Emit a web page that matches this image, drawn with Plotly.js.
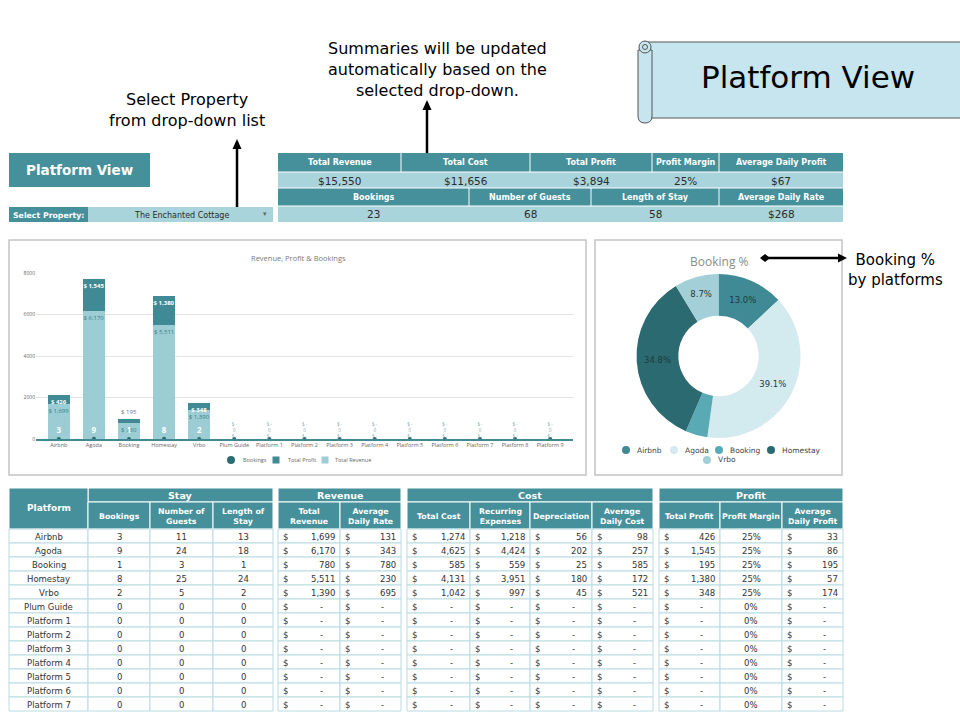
<!DOCTYPE html>
<html><head><meta charset="utf-8">
<script src="https://cdn.plot.ly/plotly-3.0.1.min.js"></script>
<style>html,body{margin:0;padding:0;background:#fff}#chart{width:960px;height:720px}</style>
</head><body><div id="chart"></div>
<script>
// ---------------- DATA ----------------
const platforms = ['Airbnb','Agoda','Booking','Homestay','Vrbo','Plum Guide','Platform 1','Platform 2','Platform 3','Platform 4','Platform 5','Platform 6','Platform 7','Platform 8','Platform 9'];
const bookings        = [3, 9, 1, 8, 2, 0,0,0,0,0,0,0,0,0,0];
const guests          = [11,24,3,25,5, 0,0,0,0,0,0,0,0,0,0];
const lengthOfStay    = [13,18,1,24,2, 0,0,0,0,0,0,0,0,0,0];
const totalRevenue    = [1699,6170,780,5511,1390, 0,0,0,0,0,0,0,0,0,0];
const avgDailyRate    = [131,343,780,230,695, 0,0,0,0,0,0,0,0,0,0];
const totalCost       = [1274,4625,585,4131,1042, 0,0,0,0,0,0,0,0,0,0];
const recurringExp    = [1218,4424,559,3951,997, 0,0,0,0,0,0,0,0,0,0];
const depreciation    = [56,202,25,180,45, 0,0,0,0,0,0,0,0,0,0];
const avgDailyCost    = [98,257,585,172,521, 0,0,0,0,0,0,0,0,0,0];
const totalProfit     = [426,1545,195,1380,348, 0,0,0,0,0,0,0,0,0,0];
const profitMargin    = [25,25,25,25,25, 0,0,0,0,0,0,0,0,0,0];
const avgDailyProfit  = [33,86,195,57,174, 0,0,0,0,0,0,0,0,0,0];

const summaryHeaders1 = ['Total Revenue','Total Cost','Total Profit','Profit Margin','Average Daily Profit'];
const summaryValues1  = ['$15,550','$11,656','$3,894','25%','$67'];
const summaryHeaders2 = ['Bookings','Number of Guests','Length of Stay','Average Daily Rate'];
const summaryValues2  = ['23','68','58','$268'];
const selectedProperty = 'The Enchanted Cottage';
const yTicks = [0,2000,4000,6000,8000];

// ---------------- STYLE ----------------
const F  = 'DejaVu Sans, Noto Sans, sans-serif';
const FC = 'Open Sans, Lato, sans-serif';
const teal = '#45909a', light = '#a9d4db', grid = '#b8dce2', ink = '#333333';
const cRevenue = '#9ccdd5', cProfit = '#3f8a94', cBook = '#2c6c73';
const pieColors = ['#3f8a94','#d3eaef','#5aaab5','#2b6a70','#a3d0d8'];

const W = 960, H = 720;
const px = x => x / W, py = y => 1 - y / H;
const shapes = [], ann = [];
function rect(x0,y0,x1,y1,fill,line,lw,layer){
  shapes.push({type:'rect',xref:'paper',yref:'paper',x0:px(x0),x1:px(x1),y0:py(y1),y1:py(y0),
    fillcolor:fill||'rgba(0,0,0,0)',line:{color:line||'rgba(0,0,0,0)',width:lw||0},layer:layer||'above'});
}
function circ(cx,cy,r,fill,line,lw){
  shapes.push({type:'circle',xref:'paper',yref:'paper',x0:px(cx-r),x1:px(cx+r),y0:py(cy+r),y1:py(cy-r),
    fillcolor:fill,line:{color:line||'rgba(0,0,0,0)',width:lw||0}});
}
function seg(x0,y0,x1,y1,color,w){
  shapes.push({type:'line',xref:'paper',yref:'paper',x0:px(x0),y0:py(y0),x1:px(x1),y1:py(y1),line:{color:color,width:w}});
}
function poly(pts,fill,line,lw){
  let d = pts.map((p,i)=>(i?'L':'M')+px(p[0])+','+py(p[1])).join(' ')+' Z';
  shapes.push({type:'path',xref:'paper',yref:'paper',path:d,fillcolor:fill,line:{color:line||fill,width:lw||0}});
}
function txt(x,y,t,o){
  o = o||{};
  ann.push({xref:'paper',yref:'paper',x:px(x),y:py(y),text:t,showarrow:false,
    xanchor:o.xa||'center',yanchor:o.ya||'middle',align:o.align||'center',
    font:{family:o.family||F,size:o.size||9,color:o.color||ink,weight:o.weight||'normal'}});
}
const fmt = v => v.toLocaleString('en-US');

// ---------------- TOP NOTES & ARROWS ----------------
txt(187,110,'Select Property<br>from drop-down list',{size:16,color:'#000'});
txt(437,69,'Summaries will be updated<br>automatically based on the<br>selected drop-down.',{size:16,color:'#000'});
txt(895,270,'Booking %<br>by platforms',{size:15,color:'#000'});
// vertical arrow 1
seg(237,147,237,214,'#000',2.5);
poly([[237,139],[232.5,149],[241.5,149]],'#000');
poly([[237,211],[241,216],[237,221],[233,216]],'#000');
// vertical arrow 2
seg(427,108,427,176,'#000',2.5);
poly([[427,100],[422.5,110],[431.5,110]],'#000');
poly([[427,174],[431,179],[427,184],[423,179]],'#000');
// horizontal arrow
seg(766,258,840,258,'#000',2.5);
poly([[847,258],[838,253.5],[838,262.5]],'#000');
poly([[760,258],[765,254],[770,258],[765,262]],'#000');

// scroll banner
rect(646,42,962,118,'#c6e5ee','#555',1);
shapes.push({type:'path',xref:'paper',yref:'paper',layer:'above',
  path:'M'+px(638)+','+py(50)+' L'+px(638)+','+py(116)+' Q'+px(638)+','+py(123)+' '+px(645)+','+py(123)+' Q'+px(652)+','+py(123)+' '+px(652)+','+py(116)+' L'+px(652)+','+py(50)+' Z',
  fillcolor:'#c6e5ee',line:{color:'#555',width:1}});
circ(645,47,6,'#c6e5ee','#555',1);
circ(645,47,2.5,'#c6e5ee','#555',1);
txt(808,77,'Platform View',{size:31,color:'#000'});

// ---------------- LEFT HEADER ----------------
rect(9,153,150,187,teal);
txt(79.5,170,'Platform View',{size:13.5,color:'#fff',weight:'bold'});
rect(9,207,88,222,teal);
rect(88,207,273,222,light);
txt(11,215,'Select Property:',{xa:'left',size:7.8,color:'#fff',weight:'bold'});
txt(181,215,selectedProperty,{size:8,color:'#2b2b2b'});
txt(265,214,'▾',{size:7,color:'#666'});

// ---------------- SUMMARY TABLE ----------------
const sb1 = [278,401,530,652,719,843];
const sb2 = [278,469,591,719,843];
rect(278,153,843,172,teal);
rect(278,172,843,188,light);
rect(278,188,843,206,teal);
rect(278,206,843,222,light);
summaryHeaders1.forEach((h,i)=>{
  if(i>0) seg(sb1[i],153,sb1[i],172,'#fff',1);
  txt((sb1[i]+sb1[i+1])/2,162.5,h,{size:8,color:'#fff',weight:'bold'});
  txt((sb1[i]+sb1[i+1])/2,180.5,summaryValues1[i],{size:10.5,color:'#2b2b2b'});
});
summaryHeaders2.forEach((h,i)=>{
  if(i>0) seg(sb2[i],188,sb2[i],206,'#fff',1);
  txt((sb2[i]+sb2[i+1])/2,197,h,{size:8,color:'#fff',weight:'bold'});
  txt((sb2[i]+sb2[i+1])/2,214.5,summaryValues2[i],{size:10.5,color:'#2b2b2b'});
});
seg(278,172,843,172,'#fff',1);
seg(278,188,843,188,'#fff',1);
seg(278,206,843,206,'#fff',1);

// ---------------- PANELS ----------------
rect(9,240,586,475,'rgba(0,0,0,0)','#c4c4c4',1.5,'below');
rect(595,240,842,475,'rgba(0,0,0,0)','#c4c4c4',1.5,'below');
txt(298,258,'Revenue, Profit &amp; Bookings',{family:FC,size:7.5,color:'#7a7a7a'});
txt(719,261,'Booking %',{family:FC,size:12,color:'#8c8c8c'});

// ---------------- BOTTOM TABLE ----------------
const nRows = 13;
const blocks = [
  {group:'Stay', gx0:88, gx1:273, cols:[
    {x0:9,x1:88,head:'Platform',span:true,data:platforms,kind:'text'},
    {x0:88,x1:150,head:'Bookings',data:bookings,kind:'int'},
    {x0:150,x1:213,head:'Number of<br>Guests',data:guests,kind:'int'},
    {x0:213,x1:273,head:'Length of<br>Stay',data:lengthOfStay,kind:'int'}]},
  {group:'Revenue', gx0:278, gx1:401, cols:[
    {x0:278,x1:340,head:'Total<br>Revenue',data:totalRevenue,kind:'acct'},
    {x0:340,x1:401,head:'Average<br>Daily Rate',data:avgDailyRate,kind:'acct'}]},
  {group:'Cost', gx0:407, gx1:653, cols:[
    {x0:407,x1:470,head:'Total Cost',data:totalCost,kind:'acct'},
    {x0:470,x1:530,head:'Recurring<br>Expenses',data:recurringExp,kind:'acct'},
    {x0:530,x1:592,head:'Depreciation',data:depreciation,kind:'acct'},
    {x0:592,x1:653,head:'Average<br>Daily Cost',data:avgDailyCost,kind:'acct'}]},
  {group:'Profit', gx0:659, gx1:843, cols:[
    {x0:659,x1:720,head:'Total Profit',data:totalProfit,kind:'acct'},
    {x0:720,x1:782,head:'Profit Margin',data:profitMargin,kind:'pct'},
    {x0:782,x1:843,head:'Average<br>Daily Profit',data:avgDailyProfit,kind:'acct'}]}
];
const hTop = 488, hMid = 502, hBot = 529, rowH = 14;
blocks.forEach(b=>{
  rect(b.gx0,hTop,b.gx1,hMid,teal,'#fff',1);
  txt((b.gx0+b.gx1)/2,hTop+7.5,b.group,{size:9.5,color:'#fff',weight:'bold'});
  b.cols.forEach(c=>{
    if(c.span){
      rect(c.x0,hTop,c.x1,hBot,teal,'#fff',1);
      txt((c.x0+c.x1)/2,508,c.head,{size:9,color:'#fff',weight:'bold'});
    } else {
      rect(c.x0,hMid,c.x1,hBot,teal,'#fff',1);
      txt((c.x0+c.x1)/2,(hMid+hBot)/2+0.5,c.head,{size:7.8,color:'#fff',weight:'bold'});
    }
    for(let i=0;i<nRows;i++){
      const y0 = hBot + i*rowH, yc = y0 + rowH/2 + 0.5, v = c.data[i];
      rect(c.x0,y0,c.x1,y0+rowH,'#fff',grid,1);
      if(c.kind==='text') txt((c.x0+c.x1)/2,yc,v,{size:8.5});
      else if(c.kind==='int') txt((c.x0+c.x1)/2,yc,String(v),{size:8.5});
      else if(c.kind==='pct') txt((c.x0+c.x1)/2,yc,v+'%',{size:8.5});
      else {
        txt(c.x0+3,yc,'$',{xa:'left',size:8.5});
        if(v) txt(c.x1-3,yc,fmt(v),{xa:'right',size:8.5});
        else txt(c.x1-15,yc,'-',{xa:'right',size:8.5});
      }
    }
  });
});

// ---------------- BAR CHART ----------------
const revText = totalRevenue.map(v=> v ? '$ '+fmt(v) : '');
const profText = totalProfit.map(v=> v ? '$ '+fmt(v) : '');
const profPos = totalProfit.map(v=> v >= 300 ? 'inside' : 'outside');
const zeroIdx = platforms.map((p,i)=>i).filter(i=>totalRevenue[i]===0);

const traces = [
  {type:'bar', name:'Total Revenue', x:platforms, y:totalRevenue, marker:{color:cRevenue},
   width:0.63, text:revText, textposition:'inside', insidetextanchor:'end', constraintext:'none', textangle:0,
   textfont:{family:FC,size:6,color:'#3b7d86'}, hoverinfo:'skip', showlegend:false, cliponaxis:false},
  {type:'bar', name:'Total Profit', x:platforms, y:totalProfit, marker:{color:cProfit},
   width:0.63, text:profText, textposition:profPos, insidetextanchor:'end', constraintext:'none', textangle:0,
   insidetextfont:{family:FC,size:6,color:'#ffffff',weight:'bold'},
   outsidetextfont:{family:FC,size:6,color:'#777'}, hoverinfo:'skip', showlegend:false, cliponaxis:false},
  {type:'scatter', mode:'markers+text', name:'Bookings', x:platforms, y:bookings,
   marker:{color:cBook,size:4}, text:bookings.map(v=> v ? String(v) : ''), textposition:'top center',
   textfont:{family:FC,size:8,color:'#ffffff',weight:'bold'}, hoverinfo:'skip', showlegend:false, cliponaxis:false},
  {type:'scatter', mode:'text', x:zeroIdx.map(i=>platforms[i]), y:zeroIdx.map(()=>0),
   text:zeroIdx.map(i=>'$ -<br>'+bookings[i]+'<br>$ -'), textposition:'top center',
   textfont:{family:FC,size:4.5,color:'#7fa9ae'}, hoverinfo:'skip', showlegend:false, cliponaxis:false},
  {type:'pie', values:bookings.slice(0,5), labels:platforms.slice(0,5), sort:false, direction:'clockwise',
   rotation:0, hole:0.49, marker:{colors:pieColors, line:{width:0}},
   text:bookings.slice(0,5).map(v=>{const s=bookings.reduce((a,b)=>a+b,0);const p=v/s*100;return p>=5?p.toFixed(1)+'%':'';}),
   textinfo:'text', textposition:'inside', insidetextorientation:'horizontal',
   textfont:{family:F,size:8.5,color:'#1e3b3e'},
   domain:{x:[px(636.5),px(800.5)], y:[py(438),py(274)]}, showlegend:false, hoverinfo:'skip'}
];

// bar legend (custom)
circ(231,460,4,cBook);
txt(241,460,'Bookings',{xa:'left',family:FC,size:5.5,color:'#666'});
rect(272.5,456.5,279.5,463.5,cProfit);
txt(286,460,'Total Profit',{xa:'left',family:FC,size:5.5,color:'#666'});
rect(321.5,456.5,328.5,463.5,cRevenue);
txt(333,460,'Total Revenue',{xa:'left',family:FC,size:5.5,color:'#666'});

// pie legend (custom)
const legPos = [[626,450],[674,450],[719,450],[771,450],[707,460]];
platforms.slice(0,5).forEach((p,i)=>{
  circ(legPos[i][0],legPos[i][1],4,pieColors[i]);
  txt(legPos[i][0]+9,legPos[i][1],p,{xa:'left',size:7.5,color:'#444'});
});

const layout = {
  width:W, height:H, margin:{l:0,r:0,t:0,b:0}, paper_bgcolor:'#fff', plot_bgcolor:'rgba(0,0,0,0)',
  barmode:'stack', showlegend:false, font:{family:FC},
  xaxis:{domain:[px(36),px(573)], range:[-0.65,14.65], type:'category', showline:true, linecolor:cProfit, linewidth:1.5,
    ticks:'', tickfont:{family:FC,size:5.5,color:'#666'}, showgrid:false, fixedrange:true},
  yaxis:{domain:[py(439),py(273)], range:[0,8000], tickvals:yTicks, ticktext:yTicks.map(String), gridcolor:'#e3e3e3',
    zeroline:false, showline:false, ticks:'', tickfont:{family:FC,size:5,color:'#666'}, fixedrange:true},
  shapes:shapes, annotations:ann
};
Plotly.newPlot('chart', traces, layout, {displayModeBar:false, staticPlot:true});
</script>
</body></html>
